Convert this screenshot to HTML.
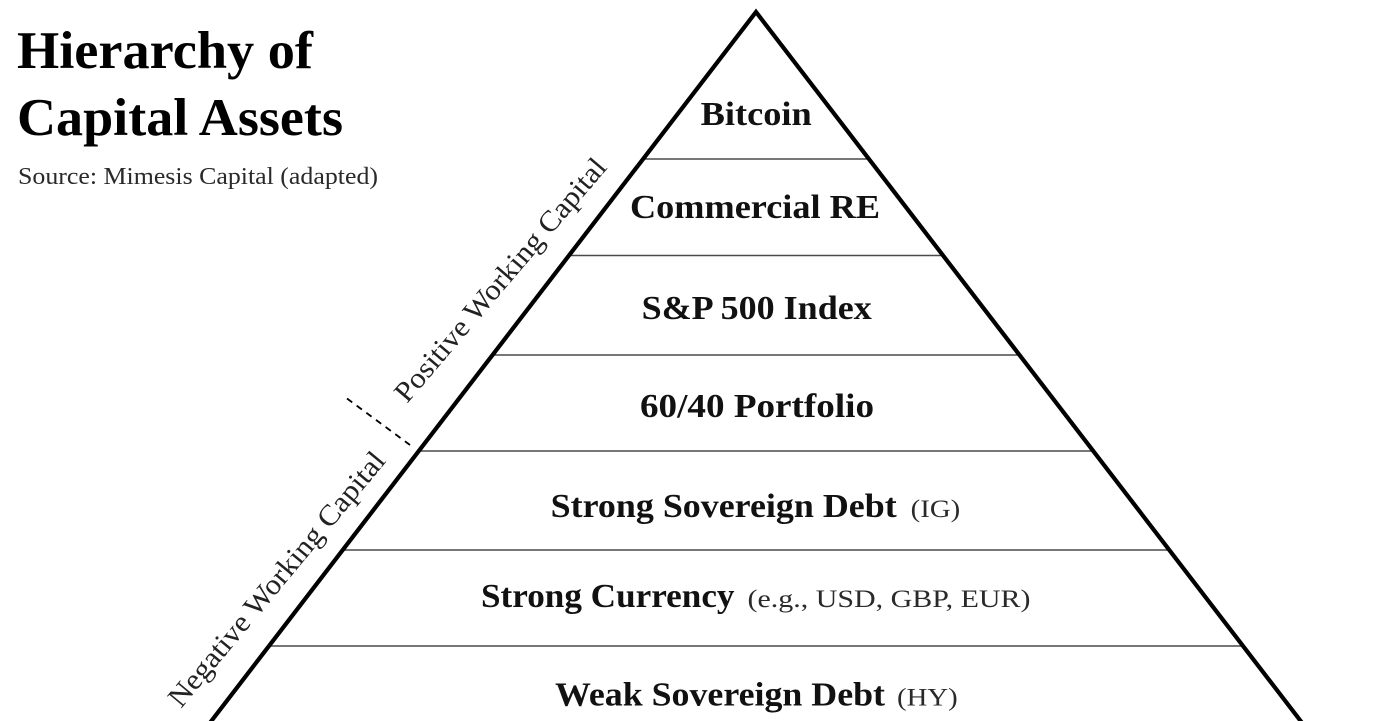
<!DOCTYPE html>
<html>
<head>
<meta charset="utf-8">
<style>
  html, body { margin: 0; padding: 0; background: #ffffff; }
  body { width: 1400px; height: 721px; overflow: hidden; }
  svg { display: block; }
  .b { font-family: "Liberation Serif", serif; font-weight: bold; fill: #111; }
  .r { font-family: "Liberation Serif", serif; font-weight: normal; fill: #2a2a2a; }
</style>
</head>
<body>
<svg width="1400" height="721" viewBox="0 0 1400 721" xmlns="http://www.w3.org/2000/svg">
  <rect x="0" y="0" width="1400" height="721" fill="#ffffff"/>

  <!-- Title -->
  <text class="b" x="17" y="68" font-size="53" textLength="296" lengthAdjust="spacingAndGlyphs" style="fill:#000">Hierarchy of</text>
  <text class="b" x="17" y="135" font-size="53" textLength="326" lengthAdjust="spacingAndGlyphs" style="fill:#000">Capital Assets</text>
  <text class="r" x="18" y="184" font-size="24" textLength="360" lengthAdjust="spacingAndGlyphs">Source: Mimesis Capital (adapted)</text>

  <!-- Horizontal band lines -->
  <g stroke="#4a4a4a" stroke-width="1.6">
    <line x1="643.1" y1="159" x2="868.9" y2="159"/>
    <line x1="569.4" y1="255.5" x2="942.6" y2="255.5"/>
    <line x1="492.6" y1="355" x2="1019.4" y2="355"/>
    <line x1="418.8" y1="451" x2="1093.2" y2="451"/>
    <line x1="342.8" y1="550" x2="1169.2" y2="550"/>
    <line x1="269.1" y1="646" x2="1242.9" y2="646"/>
  </g>

  <!-- Triangle edges -->
  <polyline points="186,754 756,12 1326,754" fill="none" stroke="#000" stroke-width="4.2" stroke-linejoin="miter" stroke-miterlimit="10"/>

  <!-- Dashed divider -->
  <line x1="347" y1="398.5" x2="410" y2="445" stroke="#000" stroke-width="1.8" stroke-dasharray="6.5,5.5"/>

  <!-- Side labels -->
  <text class="r" font-size="29" transform="translate(407,404) rotate(-49.6)" textLength="310" lengthAdjust="spacingAndGlyphs" style="fill:#222">Positive Working Capital</text>
  <text class="r" font-size="29" transform="translate(181,709) rotate(-50.3)" textLength="322" lengthAdjust="spacingAndGlyphs" style="fill:#222">Negative Working Capital</text>

  <!-- Band labels -->
  <text class="b" x="700.7" y="125" font-size="34" textLength="111" lengthAdjust="spacingAndGlyphs">Bitcoin</text>
  <text class="b" x="630" y="218" font-size="34" textLength="250" lengthAdjust="spacingAndGlyphs">Commercial RE</text>
  <text class="b" x="641.7" y="319" font-size="34" textLength="230" lengthAdjust="spacingAndGlyphs">S&amp;P 500 Index</text>
  <text class="b" x="640" y="417" font-size="34" textLength="234" lengthAdjust="spacingAndGlyphs">60/40 Portfolio</text>

  <text class="b" x="550.7" y="517" font-size="34" textLength="346" lengthAdjust="spacingAndGlyphs">Strong Sovereign Debt</text>
  <text class="r" x="910.7" y="517" font-size="25" textLength="49.5" lengthAdjust="spacingAndGlyphs">(IG)</text>

  <text class="b" x="481" y="607" font-size="34" textLength="253.5" lengthAdjust="spacingAndGlyphs">Strong Currency</text>
  <text class="r" x="747.5" y="607" font-size="25" textLength="283" lengthAdjust="spacingAndGlyphs">(e.g., USD, GBP, EUR)</text>

  <text class="b" x="555" y="705.5" font-size="34" textLength="330" lengthAdjust="spacingAndGlyphs">Weak Sovereign Debt</text>
  <text class="r" x="897" y="705.5" font-size="25" textLength="60.7" lengthAdjust="spacingAndGlyphs">(HY)</text>
</svg>
</body>
</html>
